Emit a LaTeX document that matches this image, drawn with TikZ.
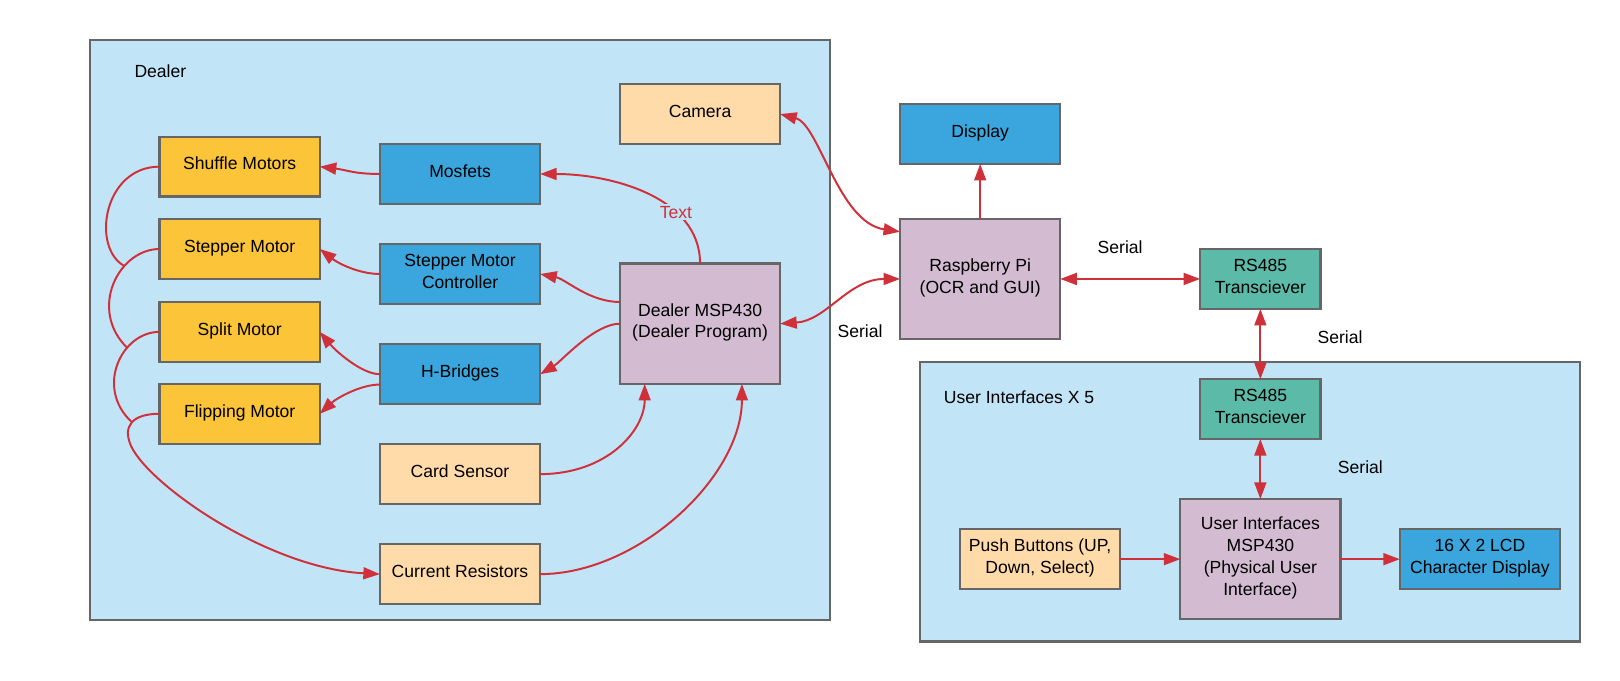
\documentclass[tikz,border=0pt]{standalone}
\usepackage{fontspec}
\setmainfont{Liberation Sans}
\usetikzlibrary{arrows.meta}
\definecolor{cOrange}{HTML}{FCC438}
\definecolor{cBlue}{HTML}{3AA6DD}
\definecolor{cPeach}{HTML}{FFDBA9}
\definecolor{cPurple}{HTML}{D3BBD2}
\definecolor{cTeal}{HTML}{5BBAA8}
\definecolor{cBg}{HTML}{C1E4F7}
\definecolor{cEdge}{HTML}{666666}
\definecolor{cRed}{HTML}{D0303A}
\newcommand{\bxt}[1]{\raisebox{1pt}[\height][\depth]{\begin{tabular}{@{}c@{}}#1\end{tabular}}}
\begin{document}
\begin{tikzpicture}[x=1pt,y=-1pt,
  box/.style={draw=cEdge, line width=2.2pt, minimum width=155pt, minimum height=58pt,
    inner sep=0pt, outer sep=0pt, font=\fontsize{17}{21}\selectfont},
  tall/.style={box, minimum height=116.5pt},
  narrow/.style={box, minimum width=116.5pt},
  group/.style={draw=cEdge, line width=2.2pt, fill=cBg},
  lbl/.style={font=\fontsize{17}{21}\selectfont, inner sep=0pt},
  plain/.style={draw=cRed, line width=1.9pt},
  conn/.style={plain, -{Triangle[length=16pt,width=11.5pt]}},
  biconn/.style={plain, {Triangle[length=16pt,width=11.5pt]}-{Triangle[length=16pt,width=11.5pt]}}]

\fill[white] (0,0) rectangle (1568,659);
\useasboundingbox (0,0) rectangle (1568,659);

% containers
\draw[group] (87,38.7) rectangle (803,600);
\draw[group] (890.5,350.1) rectangle (1529,621);
\node[lbl, anchor=west] (dealerlbl) at (130,69.4) {Dealer};
\node[lbl, anchor=west] (uilbl) at (913.4,384) {User Interfaces X 5};

% nodes
\node[box, fill=cPeach] (camera) at (677.6,110.4) {\bxt{Camera}};
\node[box, fill=cOrange] (shuffle) at (232,161.3) {\bxt{Shuffle Motors}};
\node[box, fill=cOrange] (stepper) at (232,241) {\bxt{Stepper Motor}};
\node[box, fill=cOrange] (split) at (232,321.2) {\bxt{Split Motor}};
\node[box, fill=cOrange] (flip) at (232,400.5) {\bxt{Flipping Motor}};
\node[box, fill=cBlue] (mosfets) at (445.3,168.4) {\bxt{Mosfets}};
\node[box, fill=cBlue] (smc) at (445.3,265.2) {\bxt{Stepper Motor\\Controller}};
\node[box, fill=cBlue] (hb) at (445.3,362.2) {\bxt{H-Bridges}};
\node[box, fill=cPeach] (card) at (445.2,458.9) {\bxt{Card Sensor}};
\node[box, fill=cPeach] (cur) at (445.2,555.7) {\bxt{Current Resistors}};
\node[tall, fill=cPurple] (dmsp) at (677.6,313.3) {\bxt{Dealer MSP430\\(Dealer Program)}};
\node[box, fill=cBlue] (display) at (948.7,129.7) {\bxt{Display}};
\node[tall, fill=cPurple] (rpi) at (948.7,270) {\bxt{Raspberry Pi\\(OCR and GUI)}};
\node[narrow, fill=cTeal] (rs1) at (1219.9,270) {\bxt{RS485\\Transciever}};
\node[narrow, fill=cTeal] (rs2) at (1219.9,396) {\bxt{RS485\\Transciever}};
\node[tall, fill=cPurple] (uimsp) at (1219.9,541.2) {\bxt{User Interfaces\\MSP430\\(Physical User\\Interface)}};
\node[box, fill=cPeach] (push) at (1006.7,541.2) {\bxt{Push Buttons (UP,\\Down, Select)}};
\node[box, fill=cBlue] (lcd) at (1432.4,541.2) {\bxt{16 X 2 LCD\\Character Display}};

% serial labels
\node[lbl] (ser1) at (1084.2,238.8) {Serial};
\node[lbl] (ser2) at (832.5,321) {Serial};
\node[lbl] (ser3) at (1297,326) {Serial};
\node[lbl] (ser4) at (1316.7,451.8) {Serial};

% junction coordinates of the motor chain
\coordinate (j1) at (120.5,257.5);
\coordinate (j2) at (123.5,337);
\coordinate (j3) at (127,408);
\coordinate (j4) at (127,432);

% left connectors
\draw[conn] (mosfets.west) .. controls +(-25,0) and +(25,3) .. (shuffle.east);
\draw[conn] (smc.west) .. controls +(-20,0) and +(18,14) .. (stepper.east);
\draw[conn] (hb.west) .. controls +(-18,0) and +(15,18) .. (split.east);
\draw[conn] ([yshift=-10pt]hb.west) .. controls +(-20,0) and +(15,-14) .. (flip.east);

% motor chain
\draw[plain] (shuffle.west) .. controls (100,161.3) and (88,240) .. (j1);
\draw[plain] (stepper.west) .. controls +(-40,0) and (85,300) .. (j2);
\draw[plain] (split.west) .. controls +(-37,0) and (92,375) .. (j3);
\draw[conn] (flip.west) .. controls +(-26,0) and (118,412) .. (j4)
  .. controls (145,470) and (260,550) .. (cur.west);

% dealer MSP connectors
\draw[conn] (dmsp.north) .. controls +(0,-65) and +(67,0) .. (mosfets.east)
  node[pos=0.32, fill=cBg, text=cRed, inner sep=2pt, font=\fontsize{17}{20}\selectfont] (txt) {Text};
\draw[conn] ([yshift=21pt]dmsp.west) .. controls +(-30,0) and +(25,5) .. (smc.east);
\draw[conn] (dmsp.west) .. controls +(-25,0) and +(20,-12) .. (hb.east);
\draw[conn] (card.east) .. controls +(65,0) and +(0,45) .. ([xshift=-53.6pt]dmsp.south);
\draw[conn] (cur.east) .. controls +(95,0) and +(0,90) .. ([xshift=40.5pt]dmsp.south);

% right side connectors
\draw[biconn] (camera.east) .. controls +(38,10) and +(-60,-9) .. ([yshift=45.7pt]rpi.west);
\draw[biconn] (dmsp.east) .. controls +(45,-3) and +(-50,0) .. (rpi.west);
\draw[conn] (rpi.north) -- (display.south);
\draw[biconn] (rpi.east) -- (rs1.west);
\draw[biconn] (rs1.south) -- (rs2.north);
\draw[biconn] (rs2.south) -- (uimsp.north);
\draw[conn] (push.east) -- (uimsp.west);
\draw[conn] (uimsp.east) -- (lcd.west);
\end{tikzpicture}
\end{document}
